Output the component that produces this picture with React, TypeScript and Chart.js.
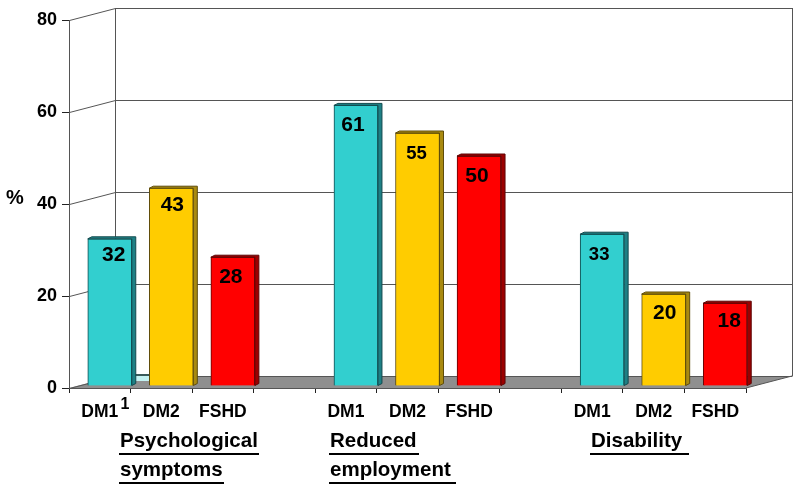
import React, { useEffect, useRef } from "react";
import { Chart, registerables } from "chart.js";

Chart.register(...registerables);

const categories = ["DM1", "DM2", "FSHD", "", "DM1", "DM2", "FSHD", "", "DM1", "DM2", "FSHD"];
const values = [32, 43, 28, null, 61, 55, 50, null, 33, 20, 18];
const yTicks = [0, 20, 40, 60, 80];
const groupCaptions = [
  { text: "Psychological", x: 120, y: 447, end: 259, lineY: 454 },
  { text: "symptoms", x: 120, y: 476, end: 224, lineY: 483 },
  { text: "Reduced", x: 330, y: 447, end: 419, lineY: 454 },
  { text: "employment", x: 330, y: 476, end: 456, lineY: 483 },
  { text: "Disability", x: 591, y: 447, end: 689, lineY: 454 },
];

const FONT = '"Liberation Sans", Arial, sans-serif';
const palette: Record<string, { face: string; side: string; edge: string }> = {
  DM1: { face: "#32cfcf", side: "#1e8085", edge: "#124a4e" },
  DM2: { face: "#ffcc00", side: "#a98a10", edge: "#5f4c0a" },
  FSHD: { face: "#ff0000", side: "#9c0000", edge: "#5e0505" },
};
const colorOf = (c: string, k: "face" | "side" | "edge") => (palette[c] ? palette[c][k] : "transparent");

// Per-bar placement of the value labels, relative to the top centre of the bar.
const labelNudge = [
  { dx: 4, dy: 16, size: 21 },
  { dx: 1, dy: 17, size: 21 },
  { dx: -2, dy: 20, size: 21 },
  null,
  { dx: -3, dy: 20, size: 21 },
  { dx: -1, dy: 21, size: 18.5 },
  { dx: -2, dy: 20, size: 21 },
  null,
  { dx: -3, dy: 21, size: 18.5 },
  { dx: 1, dy: 19, size: 21 },
  { dx: 4, dy: 18, size: 21 },
];

const DEPTH_X = 46;
const DEPTH_Y = 12;
const BAR_SHIFT_X = 10;
const BAR_SHIFT_Y = -2;
const SIDE_X = 4;
const SIDE_Y = 2;

const stagePlugin = {
  id: "stage3d",
  beforeDraw(chart: any) {
    const { ctx, chartArea, scales } = chart;
    const { left, right } = chartArea;
    const y0 = scales.y.getPixelForValue(0);
    const yTop = scales.y.getPixelForValue(80);
    ctx.save();
    // floor
    ctx.fillStyle = "#8f8f8f";
    ctx.beginPath();
    ctx.moveTo(left, y0);
    ctx.lineTo(left + DEPTH_X, y0 - DEPTH_Y);
    ctx.lineTo(right + DEPTH_X, y0 - DEPTH_Y);
    ctx.lineTo(right, y0);
    ctx.closePath();
    ctx.fill();
    // wall lines
    ctx.strokeStyle = "#555555";
    ctx.lineWidth = 1;
    ctx.beginPath();
    yTicks.forEach((t) => {
      const y = Math.round(scales.y.getPixelForValue(t)) + 0.5;
      ctx.moveTo(left + 0.5, y);
      ctx.lineTo(left + DEPTH_X + 0.5, y - DEPTH_Y);
      ctx.lineTo(right + DEPTH_X + 0.5, y - DEPTH_Y);
    });
    ctx.moveTo(left + DEPTH_X + 0.5, yTop - DEPTH_Y);
    ctx.lineTo(left + DEPTH_X + 0.5, y0 - DEPTH_Y);
    ctx.moveTo(right + DEPTH_X + 0.5, yTop - DEPTH_Y);
    ctx.lineTo(right + DEPTH_X + 0.5, y0 - DEPTH_Y);
    ctx.moveTo(right, y0);
    ctx.lineTo(right + DEPTH_X, y0 - DEPTH_Y);
    ctx.stroke();
    // pale patch behind the first bar
    ctx.fillStyle = "#c4f2f2";
    ctx.fillRect(134, y0 - 13, 15, 6);
    ctx.fillStyle = "#3a5a5a";
    ctx.fillRect(134, y0 - 14, 15, 2);
    ctx.restore();
  },
  beforeDatasetDraw(chart: any) {
    chart.ctx.save();
    chart.ctx.translate(BAR_SHIFT_X, BAR_SHIFT_Y);
  },
  afterDatasetDraw(chart: any) {
    const { ctx } = chart;
    chart.getDatasetMeta(0).data.forEach((bar: any, i: number) => {
      if (values[i] == null) return;
      const { x, y, base, width } = bar.getProps(["x", "y", "base", "width"], true);
      const l = x - width / 2;
      const r = x + width / 2;
      ctx.fillStyle = colorOf(categories[i], "side");
      ctx.strokeStyle = colorOf(categories[i], "edge");
      ctx.lineWidth = 1;
      ctx.beginPath();
      ctx.moveTo(r, base);
      ctx.lineTo(r + SIDE_X, base - SIDE_Y);
      ctx.lineTo(r + SIDE_X, y - SIDE_Y);
      ctx.lineTo(l + SIDE_X, y - SIDE_Y);
      ctx.lineTo(l, y);
      ctx.lineTo(r, y);
      ctx.closePath();
      ctx.fill();
      ctx.stroke();
    });
    ctx.restore();
  },
  afterDraw(chart: any) {
    const { ctx } = chart;
    ctx.save();
    ctx.fillStyle = "#000";
    // value labels
    ctx.textAlign = "center";
    ctx.textBaseline = "middle";
    chart.getDatasetMeta(0).data.forEach((bar: any, i: number) => {
      const n = labelNudge[i];
      if (values[i] == null || !n) return;
      const { x, y } = bar.getProps(["x", "y"], true);
      ctx.font = `bold ${n.size}px ${FONT}`;
      ctx.fillText(String(values[i]), x + BAR_SHIFT_X + n.dx, y + BAR_SHIFT_Y + n.dy);
    });
    // y unit and footnote mark
    ctx.font = `bold 20px ${FONT}`;
    ctx.fillText("%", 15, 198);
    ctx.font = `bold 16px ${FONT}`;
    ctx.fillText("1", 125, 405);
    // group captions
    ctx.textAlign = "left";
    ctx.textBaseline = "alphabetic";
    ctx.font = `bold 20.5px ${FONT}`;
    ctx.strokeStyle = "#000";
    ctx.lineWidth = 2;
    groupCaptions.forEach((g) => {
      ctx.fillText(g.text, g.x, g.y);
      ctx.beginPath();
      ctx.moveTo(g.x - 1, g.lineY);
      ctx.lineTo(g.end, g.lineY);
      ctx.stroke();
    });
    ctx.restore();
  },
};

export default function App() {
  const ref = useRef<HTMLCanvasElement | null>(null);
  useEffect(() => {
    if (!ref.current) return;
    const chart = new Chart(ref.current, {
      type: "bar",
      data: {
        labels: categories,
        datasets: [
          {
            data: values,
            backgroundColor: categories.map((c) => colorOf(c, "face")),
            borderColor: categories.map((c) => colorOf(c, "edge")),
            borderWidth: 1,
            barThickness: 44,
          },
        ],
      },
      options: {
        animation: false,
        responsive: false,
        layout: { padding: { top: 20, right: 54, left: 0, bottom: 0 } },
        plugins: { legend: { display: false }, tooltip: { enabled: false }, title: { display: false } },
        scales: {
          x: {
            afterFit: (s: any) => {
              s.height = 104;
            },
            grid: { drawOnChartArea: false, drawTicks: true, tickLength: 5, color: "#222222" },
            border: { color: "#555555", width: 1 },
            ticks: {
              autoSkip: false,
              maxRotation: 0,
              padding: 9,
              color: "#000",
              font: { family: FONT, weight: "bold", size: 17.5 },
            },
          },
          y: {
            min: 0,
            max: 80,
            afterFit: (s: any) => {
              s.width = 69;
            },
            afterBuildTicks: (s: any) => {
              s.ticks = yTicks.map((value) => ({ value }));
            },
            grid: { drawOnChartArea: false, drawTicks: true, tickLength: 7, color: "#222222" },
            border: { color: "#555555", width: 1 },
            ticks: {
              padding: 5,
              color: "#000",
              font: { family: FONT, weight: "bold", size: 18 },
            },
          },
        },
      },
      plugins: [stagePlugin],
    } as any);
    return () => chart.destroy();
  }, []);
  return (
    <div style={{ position: "absolute", left: 0, top: 0, width: 800, height: 492, background: "#fff" }}>
      <canvas ref={ref} width={800} height={492} style={{ display: "block" }} />
    </div>
  );
}
